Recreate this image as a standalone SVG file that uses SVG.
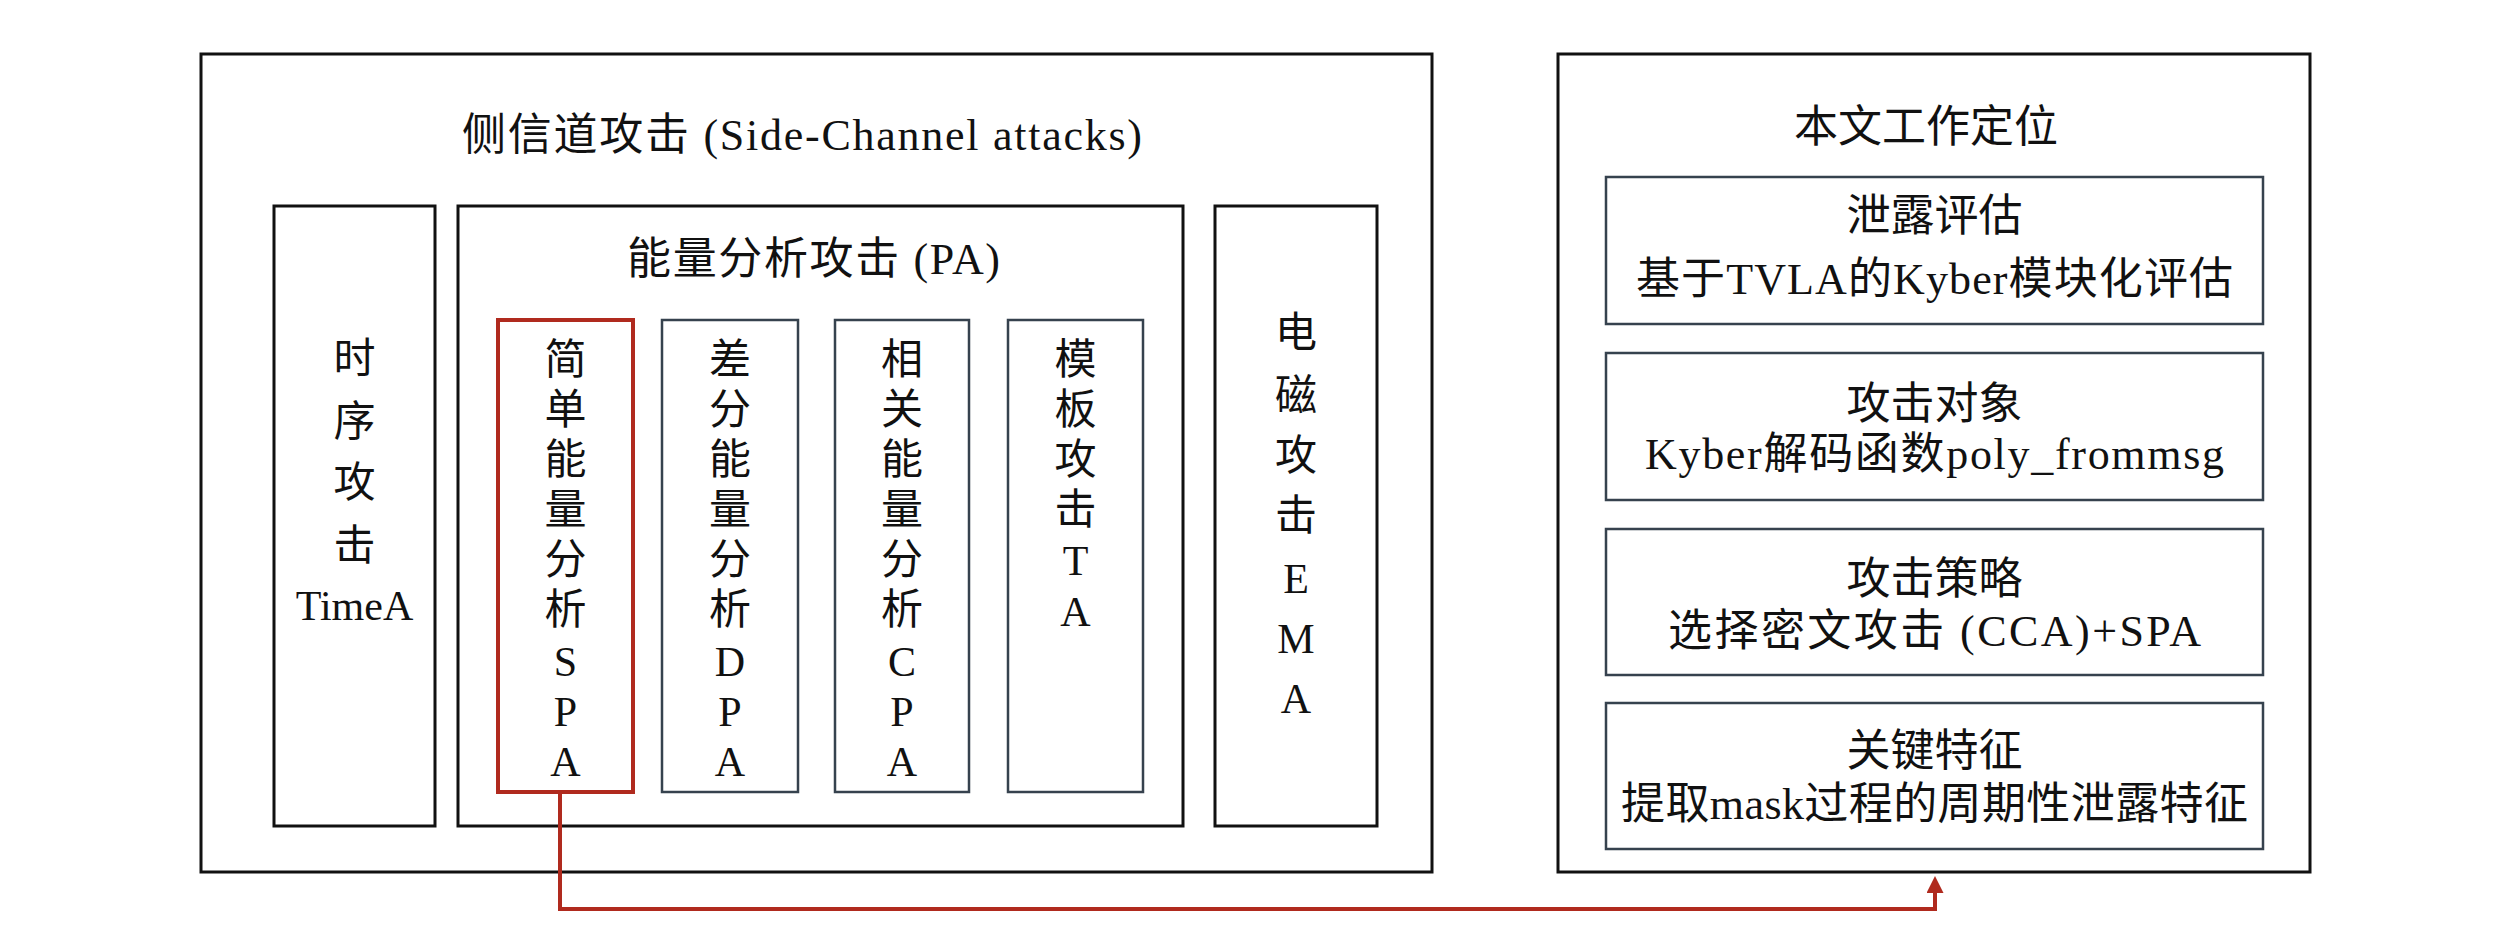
<svg xmlns="http://www.w3.org/2000/svg" width="2520" height="950" viewBox="0 0 2520 950">
<defs>
<style>
text{font-family:"Liberation Serif","Noto Sans CJK SC",serif;fill:#111;}
.t{font-size:44px;text-anchor:middle;}
.c{font-size:42px;text-anchor:middle;}
.box{fill:none;stroke:#111;stroke-width:3;}
.sub{fill:none;stroke:#36424e;stroke-width:2.5;}
.red{fill:none;stroke:#b02a1e;stroke-width:4;}
.conn{fill:none;stroke:#b02a1e;stroke-width:4;}
</style>
<marker id="ah" markerWidth="17" markerHeight="17" refX="13" refY="8.5" orient="auto" markerUnits="userSpaceOnUse" viewBox="0 0 17 17">
<path d="M0,0 L17,8.5 L0,17 Z" fill="#b02a1e"/>
</marker>
</defs>
<rect width="2520" height="950" fill="#fff"/>

<g id="side-channel">
<rect class="box" x="201" y="54" width="1231" height="818"/>
<text class="t" x="802" y="150" textLength="680" lengthAdjust="spacing">侧信道攻击 (Side-Channel attacks)</text>
</g>

<g id="timea">
<rect class="box" x="274" y="206" width="161" height="620"/>
<text class="c" x="354.5" y="373">时</text>
<text class="c" x="354.5" y="436">序</text>
<text class="c" x="354.5" y="497">攻</text>
<text class="c" x="354.5" y="560">击</text>
<text class="c" x="354.5" y="620">TimeA</text>
</g>

<g id="pa">
<rect class="box" x="458" y="206" width="725" height="620"/>
<text class="t" x="813.5" y="274" textLength="373" lengthAdjust="spacing">能量分析攻击 (PA)</text>
</g>

<g id="spa">
<rect class="red" x="498" y="320" width="135" height="472"/>
<text class="c" x="565.5" y="374">简</text>
<text class="c" x="565.5" y="424">单</text>
<text class="c" x="565.5" y="474">能</text>
<text class="c" x="565.5" y="524">量</text>
<text class="c" x="565.5" y="574">分</text>
<text class="c" x="565.5" y="624">析</text>
<text class="c" x="565.5" y="676">S</text>
<text class="c" x="565.5" y="726">P</text>
<text class="c" x="565.5" y="776">A</text>
</g>

<g id="dpa">
<rect class="sub" x="662" y="320" width="136" height="472"/>
<text class="c" x="730" y="374">差</text>
<text class="c" x="730" y="424">分</text>
<text class="c" x="730" y="474">能</text>
<text class="c" x="730" y="524">量</text>
<text class="c" x="730" y="574">分</text>
<text class="c" x="730" y="624">析</text>
<text class="c" x="730" y="676">D</text>
<text class="c" x="730" y="726">P</text>
<text class="c" x="730" y="776">A</text>
</g>

<g id="cpa">
<rect class="sub" x="835" y="320" width="134" height="472"/>
<text class="c" x="902" y="374">相</text>
<text class="c" x="902" y="424">关</text>
<text class="c" x="902" y="474">能</text>
<text class="c" x="902" y="524">量</text>
<text class="c" x="902" y="574">分</text>
<text class="c" x="902" y="624">析</text>
<text class="c" x="902" y="676">C</text>
<text class="c" x="902" y="726">P</text>
<text class="c" x="902" y="776">A</text>
</g>

<g id="ta">
<rect class="sub" x="1008" y="320" width="135" height="472"/>
<text class="c" x="1075.5" y="374">模</text>
<text class="c" x="1075.5" y="424">板</text>
<text class="c" x="1075.5" y="474">攻</text>
<text class="c" x="1075.5" y="524">击</text>
<text class="c" x="1075.5" y="575">T</text>
<text class="c" x="1075.5" y="626">A</text>
</g>

<g id="ema">
<rect class="box" x="1215" y="206" width="162" height="620"/>
<text class="c" x="1296" y="347">电</text>
<text class="c" x="1296" y="410">磁</text>
<text class="c" x="1296" y="470">攻</text>
<text class="c" x="1296" y="530">击</text>
<text class="c" x="1296" y="593">E</text>
<text class="c" x="1296" y="653">M</text>
<text class="c" x="1296" y="713">A</text>
</g>

<g id="work">
<rect class="box" x="1558" y="54" width="752" height="818"/>
<text class="t" x="1926" y="142">本文工作定位</text>
</g>

<g id="leak-eval">
<rect class="sub" x="1606" y="177" width="657" height="147"/>
<text class="t" x="1934.5" y="231">泄露评估</text>
<text class="t" x="1934.5" y="294" textLength="597" lengthAdjust="spacing">基于TVLA的Kyber模块化评估</text>
</g>

<g id="target">
<rect class="sub" x="1606" y="353" width="657" height="147"/>
<text class="t" x="1934.5" y="419">攻击对象</text>
<text class="t" x="1934.5" y="469" textLength="579" lengthAdjust="spacing">Kyber解码函数poly_frommsg</text>
</g>

<g id="strategy">
<rect class="sub" x="1606" y="529" width="657" height="146"/>
<text class="t" x="1934.5" y="594">攻击策略</text>
<text class="t" x="1934.5" y="646" textLength="533" lengthAdjust="spacing">选择密文攻击 (CCA)+SPA</text>
</g>

<g id="feature">
<rect class="sub" x="1606" y="703" width="657" height="146"/>
<text class="t" x="1934.5" y="766">关键特征</text>
<text class="t" x="1934.5" y="819" textLength="627" lengthAdjust="spacing">提取mask过程的周期性泄露特征</text>
</g>

<g id="connectors">
<path class="conn" d="M560,792 V909 H1935 V880" marker-end="url(#ah)"/>
</g>
</svg>
